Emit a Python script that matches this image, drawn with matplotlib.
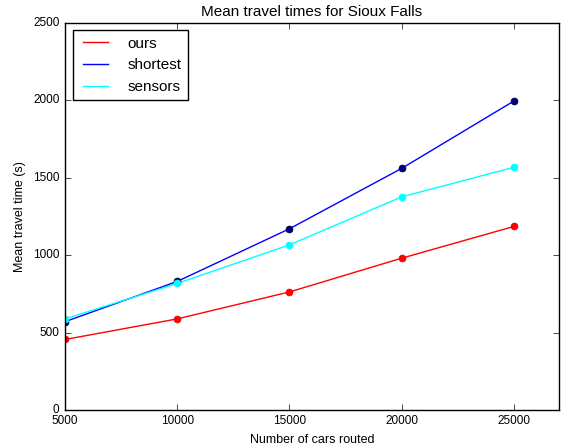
import numpy as np
import matplotlib.pyplot as plt

# data
cars = [5000, 10000, 15000, 20000, 25000]
ours = [455, 588, 762, 980, 1185]
shortest = [570, 830, 1170, 1560, 1995]
sensors = [588, 817, 1066, 1376, 1567]

plt.style.use('classic')
plt.rcParams['font.family'] = ['Liberation Sans', 'DejaVu Sans']

fig = plt.figure(figsize=(5.61, 4.48), dpi=100, facecolor='white')
ax = fig.add_axes([0.116, 0.085, 0.880, 0.864])

ax.plot(cars, ours, color='red', label='ours')
ax.plot(cars, shortest, color='blue', label='shortest')
ax.plot(cars, sensors, color='cyan', label='sensors')

# markers drawn on top, like a scatter
ax.plot(cars, ours, 'o', color='red', markeredgecolor='red', markersize=5)
ax.plot(cars, shortest, 'o', color='#000080', markeredgecolor='#000030', markersize=5)
ax.plot(cars, sensors, 'o', color='cyan', markeredgecolor='cyan', markersize=5)

ax.set_xlim(5000, 27000)
ax.set_ylim(0, 2500)
ax.set_xticks([5000, 10000, 15000, 20000, 25000])
ax.set_yticks([0, 500, 1000, 1500, 2000, 2500])
ax.tick_params(labelsize=8.5)
ax.set_xlabel('Number of cars routed', fontsize=9)
ax.set_ylabel('Mean travel time (s)', fontsize=9)
ax.set_title('Mean travel times for Sioux Falls', fontsize=11)
ax.legend(loc='upper left', fontsize=11, handlelength=2.2, handletextpad=1.0)

fig.savefig('out.png', facecolor='white')
